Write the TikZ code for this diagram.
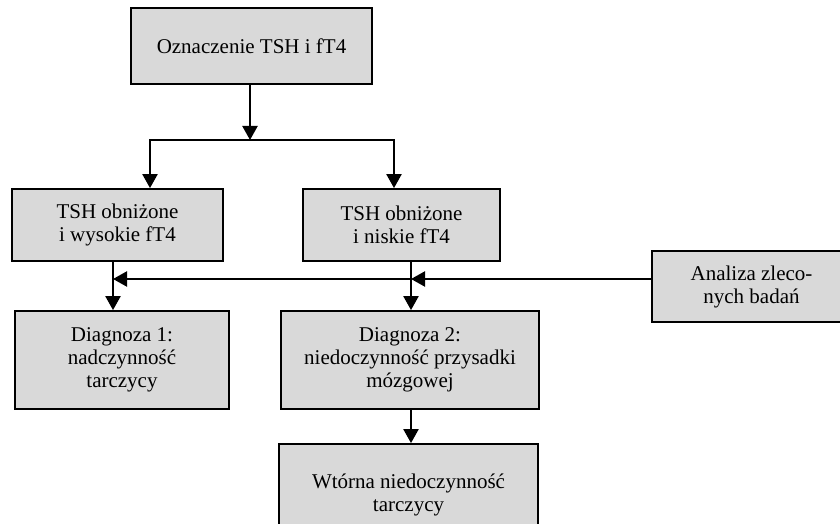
\documentclass[tikz,border=0pt]{standalone}
\usepackage{fontspec}
\setmainfont{Liberation Serif}
\usetikzlibrary{arrows.meta}
\definecolor{boxgray}{RGB}{217,217,217}
\newcommand{\rowheight}{36pt}
\tikzset{
    common/.style={draw, rectangle, fill=boxgray, line width=0.9pt, align=center, inner sep=0pt,
        font=\fontsize{10.5}{11.5}\selectfont},
    tshbox/.style={common, minimum height=\rowheight},
    diagbox/.style={common, minimum height=49pt},
    conn/.style={line width=1.1pt, -{Triangle[length=7pt, width=7.5pt]}},
    link/.style={line width=1.1pt}
}
\begin{document}
\begin{tikzpicture}[x=0.5pt, y=-0.5pt]
        \clip (0,0) rectangle (840,524);
        \fill[white] (0,0) rectangle (840,524);

        \node[common, minimum width=120.5pt, minimum height=38pt] (oznacz) at (251.5,46) {Oznaczenie TSH i fT4};
        \node[tshbox, minimum width=105.5pt] (tshwys) at (117.5,225) {TSH obniżone\\i wysokie fT4};
        \node[tshbox, minimum width=98.5pt] (tshnis) at (401.5,225) {TSH obniżone\\i niskie fT4};
        \node[diagbox, minimum width=107pt] (diag1) at (122,360) {Diagnoza 1:\\nadczynność\\tarczycy};
        \node[diagbox, minimum width=129pt] (diag2) at (410,360) {Diagnoza 2:\\niedoczynność przysadki\\mózgowej};
        \node[common, minimum width=129.5pt, minimum height=51pt] (wtorna) at (408.5,495) {Wtórna niedoczynność\\tarczycy};
        \node[common, minimum width=99.5pt, minimum height=35.5pt] (analiza) at (751.5,286.5) {Analiza zleco-\\nych badań};

        \coordinate (split) at (250,140);
        \coordinate (colA) at (150,0);
        \coordinate (colB) at (394,0);
        \coordinate (colL) at (113,0);
        \coordinate (colR) at (411,0);
        \coordinate (meet) at (411,279);

        \draw[conn] (oznacz.south -| split) -- (split);
        \draw[conn] (split) -| (tshwys.north -| colA);
        \draw[conn] (split) -| (tshnis.north -| colB);
        \draw[conn] (tshwys.south -| colL) -- (diag1.north -| colL);
        \draw[conn] (tshnis.south -| colR) -- (diag2.north -| colR);
        \draw[conn] (analiza.west |- meet) -- (meet);
        \draw[conn] (meet) -- (meet -| colL);
        \draw[conn] (diag2.south -| colR) -- (wtorna.north -| colR);
    \end{tikzpicture}
\end{document}
